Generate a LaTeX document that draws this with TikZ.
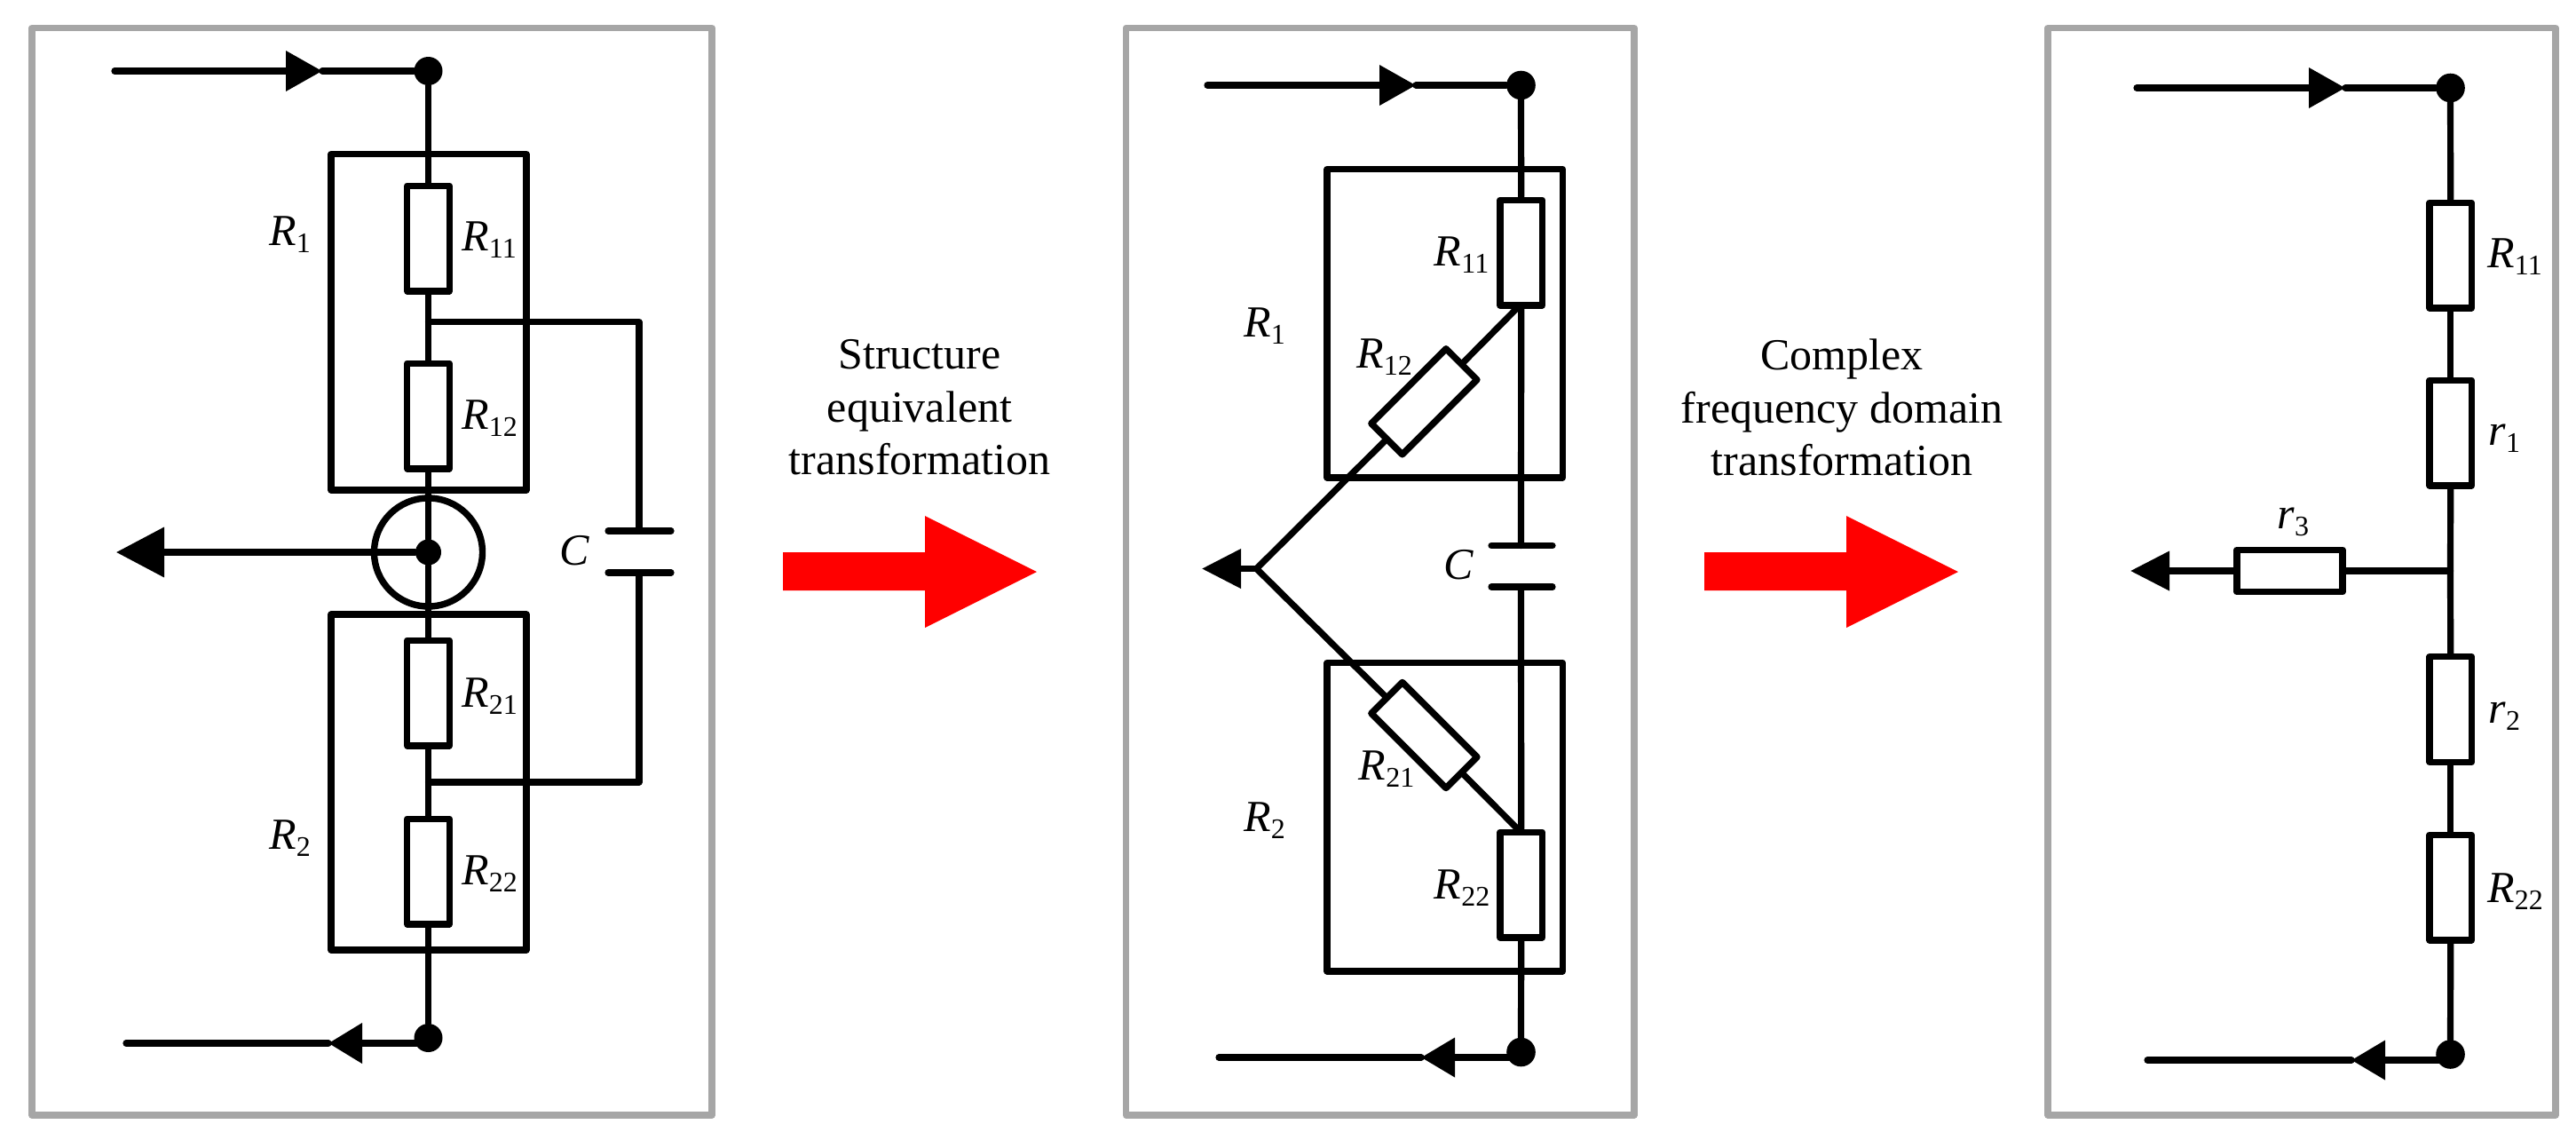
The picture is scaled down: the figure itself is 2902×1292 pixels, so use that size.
\documentclass[tikz,border=0pt]{standalone}
\usepackage{fontspec}
\setmainfont{Liberation Serif}
\usetikzlibrary{arrows.meta}
\definecolor{framegray}{HTML}{A6A6A6}
\newcommand\lbl[2]{\textit{#1}\raisebox{-4.2pt}{\fontsize{16}{16}\selectfont #2}}
\tikzset{
  panelframe/.style={draw=framegray,line width=3.7pt,line join=round},
  wire/.style={draw=black,line width=3.6pt,line cap=round,line join=round},
  thinwire/.style={wire},
  resbody/.style={draw=black,fill=white,line width=3.7pt,line join=round,inner sep=0pt,rectangle,minimum width=23.75pt,minimum height=59.3pt},
  reshoriz/.style={resbody,minimum width=59.5pt,minimum height=23.75pt},
  resdiag/.style={resbody,minimum width=59.5pt,minimum height=24.7pt},
  dotnode/.style={circle,fill=black,inner sep=0pt,minimum size=16.3pt},
  smalldot/.style={circle,fill=black,inner sep=0pt,minimum size=14.5pt},
  ringnode/.style={circle,draw=black,line width=3.7pt,inner sep=0pt,minimum size=61pt},
  lab/.style={anchor=base west,inner sep=0pt,font=\fontsize{25}{30}\selectfont},
  captext/.style={font=\fontsize{25}{29.75}\selectfont,align=center,inner sep=0pt},
  tipmid/.style={-{Triangle[length=20.5pt,width=22pt]}},
  tipbig/.style={-{Triangle[length=27pt,width=27.5pt]}},
  tipsmall/.style={-{Triangle[length=22pt,width=21.5pt]}},
  redarrow/.style={fill=red}
}
\begin{document}
\begin{tikzpicture}[x=0.5pt,y=-0.5pt]
\useasboundingbox (0,0) rectangle (2902,1292);
\fill[white] (0,0) rectangle (2902,1292);

% ---------- frames
\draw[panelframe] (36,31.5) rectangle (802,1256);
\draw[panelframe] (1268.5,31.5) rectangle (1841,1256);
\draw[panelframe] (2307,31.5) rectangle (2879,1256);

% ---------- panel 1
\draw[wire] (373,173.5) rectangle (593,552);
\draw[wire] (373,692) rectangle (593,1070);
\node[dotnode,minimum size=16pt] (atop) at (482.5,80) {};
\node[dotnode,minimum size=16pt] (abot) at (482.5,1169) {};
\node[smalldot] (amid) at (482.5,622) {};
\node[ringnode] (aring) at (482.5,622) {};
\node[resbody] (aR11) at (482.5,268.5) {};
\node[resbody] (aR12) at (482.5,468.5) {};
\node[resbody] (aR21) at (482.5,780.5) {};
\node[resbody] (aR22) at (482.5,981.5) {};
\coordinate (aj1) at (482.5,362.5);
\coordinate (aj2) at (482.5,881);
\coordinate (ain) at (129,80);
\coordinate (ainTip) at (363,80);
\coordinate (aoutEnd) at (131,622);
\coordinate (abotEnd) at (482.5,1175);
\coordinate (abotTip) at (370,1175);
\coordinate (aret) at (142,1175);
\coordinate (aCt) at (720,598);
\coordinate (aCb) at (720,645);
\coordinate (aCtl) at (685,598);
\coordinate (aCtr) at (756,598);
\coordinate (aCbl) at (685,645);
\coordinate (aCbr) at (756,645);
\draw[wire,tipmid] (ain) -- (ainTip);
\draw[wire] (ainTip) -- (atop);
\draw[wire] (atop) -- (aR11.north);
\draw[wire] (aR11.south) -- (aR12.north);
\draw[wire] (aR12.south) -- (amid);
\draw[wire] (amid) -- (aR21.north);
\draw[wire] (aR21.south) -- (aR22.north);
\draw[wire] (aR22.south) -- (abot);
\draw[wire,tipbig] (amid) -- (aoutEnd);
\draw[wire,-{Triangle[length=19pt,width=22pt]}] (abotEnd) -- (abotTip);
\draw[wire] (abotTip) -- (aret);
\draw[wire] (aj1) -| (aCt);
\draw[wire] (aj2) -| (aCb);
\draw[wire] (aCtl) -- (aCtr);
\draw[wire] (aCbl) -- (aCbr);
\node[lab] (aL1) at (303,276) {\lbl{R}{1}};
\node[lab] (aL11) at (520,282) {\lbl{R}{11}};
\node[lab] (aL12) at (520,483) {\lbl{R}{12}};
\node[lab] (aLC) at (630,636) {\textit{C}};
\node[lab] (aL21) at (520,796) {\lbl{R}{21}};
\node[lab] (aL2) at (303,956) {\lbl{R}{2}};
\node[lab] (aL22) at (520,996) {\lbl{R}{22}};

% ---------- red arrow 1 and caption
\fill[redarrow] (882,622) -- (1042,622) -- (1042,581) -- (1168,644) -- (1042,707) -- (1042,665) -- (882,665) -- cycle;
\node[captext] (cap1) at (1036,459) {Structure\\equivalent\\transformation};

% ---------- panel 2
\draw[thinwire] (1495,190.5) rectangle (1760.5,538);
\draw[thinwire] (1495,746.5) rectangle (1760.5,1094);
\node[dotnode] (btop) at (1713.5,96) {};
\node[dotnode] (bbot) at (1713.5,1185) {};
\node[resbody] (bR11) at (1713.7,284.5) {};
\node[resbody] (bR22) at (1713.7,996.5) {};
\node[resdiag,rotate=45] (bR12) at (1604.4,452.3) {};
\node[resdiag,rotate=-45] (bR21) at (1604.4,828) {};
\coordinate (bj1) at (1709,347);
\coordinate (bj2) at (1709,933);
\coordinate (bjoin) at (1415.5,640.5);
\coordinate (bout) at (1354,640.5);
\coordinate (bin) at (1360,96);
\coordinate (binTip) at (1595,96);
\coordinate (bbotEnd) at (1713.5,1191);
\coordinate (bbotTip) at (1601,1191);
\coordinate (bret) at (1373,1191);
\coordinate (bCt) at (1713.5,614.5);
\coordinate (bCb) at (1713.5,661);
\coordinate (bCtl) at (1680,614.5);
\coordinate (bCtr) at (1749,614.5);
\coordinate (bCbl) at (1680,661);
\coordinate (bCbr) at (1749,661);
\draw[thinwire,tipmid] (bin) -- (binTip);
\draw[thinwire] (binTip) -- (btop);
\draw[thinwire] (btop) -- (bR11.north);
\draw[thinwire] (bR11.south) -- (bCt);
\draw[thinwire] (bCb) -- (bR22.north);
\draw[thinwire] (bR22.south) -- (bbot);
\draw[thinwire] (bj1) -- (bR12.east);
\draw[thinwire] (bR12.west) -- (bjoin);
\draw[thinwire] (bjoin) -- (bR21.west);
\draw[thinwire] (bR21.east) -- (bj2);
\draw[thinwire,tipsmall] (bjoin) -- (bout);
\draw[thinwire,-{Triangle[length=19pt,width=21.5pt]}] (bbotEnd) -- (bbotTip);
\draw[thinwire] (bbotTip) -- (bret);
\draw[thinwire] (bCtl) -- (bCtr);
\draw[thinwire] (bCbl) -- (bCbr);
\node[lab] (bL11) at (1615.5,299) {\lbl{R}{11}};
\node[lab] (bL1) at (1401,379) {\lbl{R}{1}};
\node[lab] (bL12) at (1528,414.5) {\lbl{R}{12}};
\node[lab] (bLC) at (1626,652.5) {\textit{C}};
\node[lab] (bL21) at (1530.5,878) {\lbl{R}{21}};
\node[lab] (bL2) at (1401,936.5) {\lbl{R}{2}};
\node[lab] (bL22) at (1615.5,1012.5) {\lbl{R}{22}};

% ---------- red arrow 2 and caption
\fill[redarrow] (1920,622) -- (2080,622) -- (2080,581) -- (2206,644) -- (2080,707) -- (2080,665) -- (1920,665) -- cycle;
\node[captext] (cap2) at (2075,459) {Complex\\frequency domain\\transformation};

% ---------- panel 3
\node[dotnode] (ctop) at (2760.5,99) {};
\node[dotnode] (cbot) at (2760.5,1187.5) {};
\node[resbody] (cR11) at (2760.7,287.5) {};
\node[resbody] (cr1) at (2760.7,487.5) {};
\node[resbody] (cr2) at (2760.7,799) {};
\node[resbody] (cR22) at (2760.7,999.5) {};
\node[reshoriz] (cr3) at (2579.5,643) {};
\coordinate (cj) at (2760.5,643);
\coordinate (cout) at (2400,643);
\coordinate (cin) at (2407,99);
\coordinate (cinTip) at (2642,99);
\coordinate (cbotEnd) at (2760.5,1194);
\coordinate (cbotTip) at (2649,1194);
\coordinate (cret) at (2419,1194);
\draw[thinwire,tipmid] (cin) -- (cinTip);
\draw[thinwire] (cinTip) -- (ctop);
\draw[thinwire] (ctop) -- (cR11.north);
\draw[thinwire] (cR11.south) -- (cr1.north);
\draw[thinwire] (cr1.south) -- (cj);
\draw[thinwire] (cj) -- (cr2.north);
\draw[thinwire] (cr2.south) -- (cR22.north);
\draw[thinwire] (cR22.south) -- (cbot);
\draw[thinwire] (cj) -- (cr3.east);
\draw[thinwire,tipsmall] (cr3.west) -- (cout);
\draw[thinwire,-{Triangle[length=19pt,width=21.5pt]}] (cbotEnd) -- (cbotTip);
\draw[thinwire] (cbotTip) -- (cret);
\node[lab] (cL11) at (2802,301) {\lbl{R}{11}};
\node[lab] (cL1) at (2803,501) {\lbl{r}{1}};
\node[lab] (cL3) at (2565,595.5) {\lbl{r}{3}};
\node[lab] (cL2) at (2803,814) {\lbl{r}{2}};
\node[lab] (cL22) at (2802,1016) {\lbl{R}{22}};
\end{tikzpicture}
\end{document}
